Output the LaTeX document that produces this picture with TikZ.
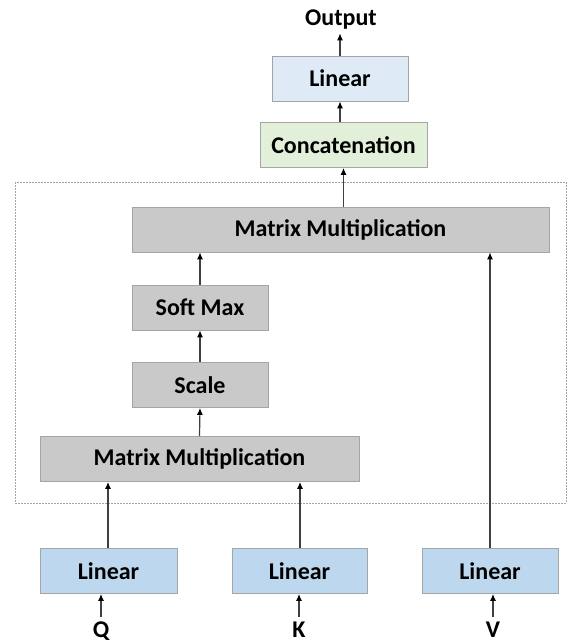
\documentclass[tikz,border=0pt]{standalone}
\usepackage{fontspec}
\setmainfont{Carlito}
\usetikzlibrary{arrows.meta}

\definecolor{blockgray}{HTML}{C9C9C9}
\definecolor{blockblue}{HTML}{BDD7EE}
\definecolor{paleblue}{HTML}{DEEBF7}
\definecolor{palegreen}{HTML}{E2F0D9}
\definecolor{edgegray}{HTML}{A5A5A5}
\definecolor{wire}{HTML}{404040}

\begin{document}
\begin{tikzpicture}[x=1pt, y=-1pt,
    every node/.style={font=\fontsize{24}{28}\selectfont\bfseries},
    block/.style={draw=edgegray, line width=0.8pt, fill=#1, inner sep=0pt,
                  minimum height=45pt},
    inlabel/.style={anchor=base, inner sep=4pt},
    flow/.style={draw=wire, line width=1.2pt,
                 -{Latex[length=7pt,width=6pt,fill=black,color=black]}},
    frame/.style={draw=edgegray, line width=0.6pt, dash pattern=on 2pt off 1pt}]

\useasboundingbox (0,0) rectangle (566,643);

\draw[frame] (15,182) rectangle (566,503);

\node (out) at (341,20) {Output};
\node[block=paleblue, minimum width=136pt] (linTop) at (340,78.5) {Linear};
\node[block=palegreen, minimum width=167pt] (concat) at (343.5,145) {Concatenation};
\node[block=blockgray, minimum width=417pt] (mmTop) at (340.5,229.5) {Matrix Multiplication};
\node[block=blockgray, minimum width=136pt] (softmax) at (200,307.5) {Soft Max};
\node[block=blockgray, minimum width=136pt] (scale) at (200,385) {Scale};
\node[block=blockgray, minimum width=319pt] (mmLow) at (199.5,459) {Matrix Multiplication};
\node[block=blockblue, minimum width=137pt] (linQ) at (108.5,571) {Linear};
\node[block=blockblue, minimum width=135pt] (linK) at (299.5,571) {Linear};
\node[block=blockblue, minimum width=136pt] (linV) at (490,571) {Linear};
\node[inlabel] (q) at (101,637) {Q};
\node[inlabel] (k) at (299,637) {K};
\node[inlabel] (v) at (493,637) {V};

\draw[flow] (q.north) -- (q.north |- linQ.south);
\draw[flow] (k.north) -- (k.north |- linK.south);
\draw[flow] (v.north) -- (v.north |- linV.south);

\draw[flow] (linQ.north -| 108,0) -- (mmLow.south -| 108,0);
\draw[flow] (linK.north -| 300,0) -- (mmLow.south -| 300,0);
\draw[flow] (linV.north) -- (linV.north |- mmTop.south);

\draw[flow] (mmLow.north) -- (scale.south);
\draw[flow] (scale.north) -- (softmax.south);
\draw[flow] (softmax.north) -- (softmax.north |- mmTop.south);
\draw[flow] (mmTop.north -| concat.north) -- (concat.south);
\draw[flow] (concat.north -| linTop.north) -- (linTop.south);
\draw[flow] (linTop.north) -- (out.south -| linTop.north);
\end{tikzpicture}
\end{document}
